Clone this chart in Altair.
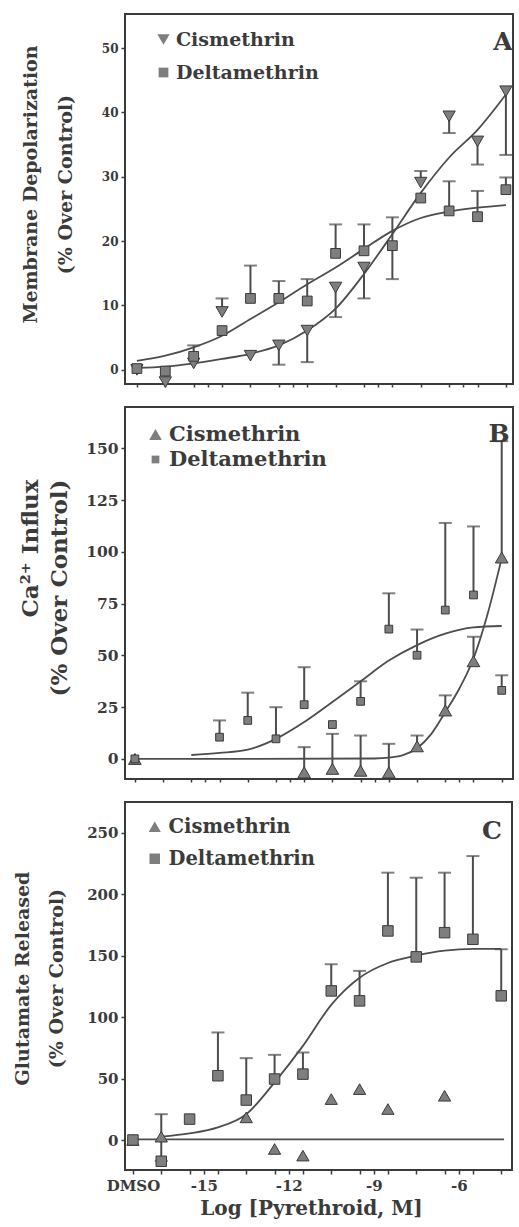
import altair as alt
import pandas as pd

# Dose positions (log molar); the first slot is the DMSO vehicle control
LOG_DOSE = [-17.5, -16.5, -15.5, -14.5, -13.5, -12.5, -11.5, -10.5, -9.5, -8.5, -7.5, -6.5, -5.5, -4.5]
X_TICKS = LOG_DOSE + [-15, -12, -9, -6]
COMPOUNDS = ["Cismethrin", "Deltamethrin"]

# ---- A: membrane depolarization (% over control)
A_CIS = [0.0, -1.9, 1.0, 9.0, 2.2, 3.8, 6.1, 12.8, 15.9, None, 29.1, 39.4, 35.5, 43.3]
A_CIS_UP = [None, None, None, 11.1, None, None, None, None, None, None, 30.9, None, None, None]
A_CIS_DOWN = [None, None, None, None, None, 0.8, 1.2, 8.2, 11.1, None, None, 36.8, 31.9, 33.4]
A_DEL = [0.2, -0.2, 2.1, 6.1, 11.1, 11.1, 10.7, 18.1, 18.5, 19.3, 26.7, 24.7, 23.8, 28.0]
A_DEL_UP = [None, None, 3.8, None, 16.2, 13.8, 14.1, 22.6, 22.6, 23.7, None, 29.3, 27.8, 29.9]
A_DEL_DOWN = [None, None, None, None, None, None, None, None, None, 14.1, None, None, None, None]
A_FIT_X = LOG_DOSE
A_CIS_FIT = [0.3, 0.5, 1.0, 1.7, 2.5, 3.8, 6.1, 9.5, 14.9, 21.1, 27.5, 33.0, 37.3, 42.8]
A_DEL_FIT = [1.4, 2.2, 3.5, 5.3, 7.9, 10.5, 13.3, 15.9, 18.8, 21.6, 23.6, 24.6, 25.2, 25.6]

# ---- B: Ca2+ influx (% over control)
B_CIS = [0.0, None, None, None, None, None, -6.5, -4.8, -5.7, -6.5, 6.1, 23.4, 47.2, 97.3]
B_CIS_UP = [None, None, None, None, None, None, 5.7, 12.1, 11.3, 7.3, 11.3, 30.7, 59.0, 153.5]
B_DEL = [0.0, None, None, 10.5, 18.6, 9.7, 26.2, 16.6, 27.8, 62.7, 50.1, 71.9, 79.2, 33.1]
B_DEL_UP = [None, None, None, 18.6, 32.0, 25.0, 44.3, None, 37.5, 80.0, 62.5, 114.0, 112.3, 40.4]
B_CIS_FIT_X = [-17.5, -9.0, -8.5, -8.0, -7.5, -7.0, -6.5, -6.0, -5.5, -5.0, -4.5]
B_CIS_FIT = [0.0, 0.2, 0.6, 1.8, 5.2, 12.0, 22.6, 34.0, 48.5, 70.0, 97.0]
B_DEL_FIT_X = [-15.5, -14.5, -13.5, -12.5, -11.5, -10.5, -9.5, -8.5, -7.5, -6.5, -5.5, -4.5]
B_DEL_FIT = [1.9, 2.9, 4.5, 9.7, 17.8, 27.5, 37.5, 47.5, 55.0, 60.5, 63.5, 64.2]

# ---- C: glutamate released (% over control)
C_CIS = [0.0, 2.7, None, None, 18.4, -7.3, -12.7, 33.3, 41.4, 25.2, None, 36.0, None, None]
C_CIS_UP = [None, 21.0, None, None, None, None, None, None, None, None, None, None, None, None]
C_CIS_DOWN = [None, -17.0, None, None, None, None, None, None, None, None, None, None, None, None]
C_DEL = [0.0, -17.3, 17.0, 52.3, 32.5, 49.6, 53.6, 121.3, 113.2, 170.1, 149.0, 168.7, 163.3, 117.3]
C_DEL_UP = [None, None, None, 87.5, 66.6, 69.3, 71.2, 143.0, 137.6, 217.5, 213.4, 217.5, 231.0, 155.2]
C_CIS_FIT_X = [-17.5, -4.4]
C_CIS_FIT = [0.5, 0.5]
C_DEL_FIT_X = [-16.5, -15.5, -14.5, -13.5, -12.5, -11.5, -10.5, -9.5, -8.5, -7.5, -6.5, -5.5, -4.5]
C_DEL_FIT = [2.7, 5.4, 10.3, 21.0, 46.9, 76.6, 110.0, 132.0, 144.0, 150.0, 154.0, 155.5, 155.5]

INK = "#3b3b3b"
LINE = "#4d4d4d"
MARKER_FILL = "#7e7e7e"
SERIF = "DejaVu Serif"


def point_table(cis, dlt):
    rows = []
    for name, vals in zip(COMPOUNDS, (cis, dlt)):
        for x, v in zip(LOG_DOSE, vals):
            if v is not None:
                rows.append({"dose": x, "value": v, "compound": name})
    return pd.DataFrame(rows)


def error_table(pairs):
    rows = []
    for vals, ends in pairs:
        for x, v, e in zip(LOG_DOSE, vals, ends):
            if v is not None and e is not None:
                rows.append({"dose": x, "value": v, "end": e})
    return pd.DataFrame(rows)


def cap_table(errors):
    # a cap sits at the far end of each error bar
    return pd.DataFrame({"dose": errors["dose"], "value": errors["end"]})


def fit_table(curves):
    rows = []
    for name, xs, ys in curves:
        for x, y in zip(xs, ys):
            rows.append({"dose": x, "value": y, "compound": name})
    return pd.DataFrame(rows)


def panel(points, errors, fits, *, x_domain, y_domain, y_ticks, width, height,
          tri, sizes, y_title, title_size, title_x, title_y, title_lh, title_align,
          tick_size, legend_x, legend_y, legend_font, legend_gap, legend_offset,
          letter, letter_x, letter_y, x_labels):
    if x_labels:
        x_axis = alt.Axis(
            values=X_TICKS, title="Log [Pyrethroid, M]", titleFont=SERIF,
            titleFontSize=20, titleFontWeight="bold", titleColor=INK, titlePadding=5,
            titleX=186,
            labelExpr="datum.value == -17.5 ? 'DMSO' : (datum.value % 3 == 0 ? '' + datum.value : '')",
            labelFont=SERIF, labelFontSize=15, labelFontWeight="bold", labelColor=INK,
            labelFlush=False, labelOverlap=False, labelPadding=4, tickSize=4,
            tickColor=INK, tickWidth=1.5, domain=False, grid=False)
    else:
        x_axis = alt.Axis(values=X_TICKS, labels=False, title=None, tickSize=3,
                          tickColor=INK, tickWidth=1.5, domain=False, grid=False)
    x = alt.X("dose:Q", scale=alt.Scale(domain=x_domain, nice=False, zero=False), axis=x_axis)
    y = alt.Y(
        "value:Q", scale=alt.Scale(domain=y_domain, nice=False, zero=False),
        axis=alt.Axis(
            values=y_ticks, title=y_title, titleFont=SERIF, titleFontSize=title_size,
            titleFontWeight="bold", titleColor=INK, titleX=title_x, titleY=title_y,
            titleLineHeight=title_lh, titleAlign=title_align, labelFont=SERIF,
            labelFontSize=tick_size, labelFontWeight="bold", labelColor=INK,
            labelPadding=3, labelOverlap=False, tickSize=4, tickColor=INK,
            tickWidth=1.5, domain=False, grid=False))
    legend = alt.Legend(
        title=None, orient="none", legendX=legend_x, legendY=legend_y, padding=0,
        labelFont=SERIF, labelFontSize=legend_font, labelFontWeight="bold",
        labelColor=INK, labelOffset=legend_offset, labelLimit=400, rowPadding=legend_gap,
        symbolFillColor=MARKER_FILL, symbolStrokeColor=INK, symbolStrokeWidth=1)

    curves = alt.Chart(fits).mark_line(color=LINE, strokeWidth=1.8, interpolate="monotone").encode(
        x=x, y=y, detail="compound:N")
    bars = alt.Chart(errors).mark_rule(color=LINE, strokeWidth=2).encode(x=x, y=y, y2="end:Q")
    caps = alt.Chart(cap_table(errors)).mark_tick(
        orient="horizontal", color=LINE, size=13, thickness=2).encode(x=x, y=y)
    pts = alt.Chart(points).mark_point(
        filled=True, fill=MARKER_FILL, stroke=INK, strokeWidth=1, opacity=1).encode(
        x=x, y=y,
        shape=alt.Shape("compound:N", scale=alt.Scale(domain=COMPOUNDS, range=[tri, "square"]),
                        legend=legend),
        size=alt.Size("compound:N", scale=alt.Scale(domain=COMPOUNDS, range=sizes),
                      legend=legend))
    tag = alt.Chart(pd.DataFrame({"tag": [letter]})).mark_text(
        font=SERIF, fontSize=25, fontWeight="bold", color=INK, align="center",
        baseline="middle").encode(text="tag:N", x=alt.value(letter_x), y=alt.value(letter_y))
    return alt.layer(curves, bars, caps, pts, tag).properties(width=width, height=height)


panel_a = panel(
    point_table(A_CIS, A_DEL),
    error_table([(A_CIS, A_CIS_UP), (A_CIS, A_CIS_DOWN), (A_DEL, A_DEL_UP), (A_DEL, A_DEL_DOWN)]),
    fit_table([("Cismethrin", A_FIT_X, A_CIS_FIT), ("Deltamethrin", A_FIT_X, A_DEL_FIT)]),
    x_domain=[-17.92, -4.25], y_domain=[-2.2, 55.3], y_ticks=[0, 10, 20, 30, 40, 50],
    width=388, height=370, tri="triangle-down", sizes=[150, 95],
    y_title=["Membrane Depolarization", "(% Over Control)"], title_size=19,
    title_x=-85, title_y=170, title_lh=35, title_align="center", tick_size=12,
    legend_x=29, legend_y=16, legend_font=19, legend_gap=13, legend_offset=3,
    letter="A", letter_x=378, letter_y=28, x_labels=False)

panel_b = panel(
    point_table(B_CIS, B_DEL),
    error_table([(B_CIS, B_CIS_UP), (B_DEL, B_DEL_UP)]),
    fit_table([("Cismethrin", B_CIS_FIT_X, B_CIS_FIT), ("Deltamethrin", B_DEL_FIT_X, B_DEL_FIT)]),
    x_domain=[-17.85, -4.1], y_domain=[-9.7, 170], y_ticks=[0, 25, 50, 75, 100, 125, 150],
    width=388, height=372, tri="triangle-up", sizes=[160, 60],
    y_title=["Ca²⁺ Influx", "(% Over Control)"], title_size=23,
    title_x=-83, title_y=72, title_lh=29, title_align="right", tick_size=15.5,
    legend_x=20, legend_y=17, legend_font=21, legend_gap=3, legend_offset=3,
    letter="B", letter_x=374, letter_y=27, x_labels=False)

panel_c = panel(
    point_table(C_CIS, C_DEL),
    error_table([(C_CIS, C_CIS_UP), (C_CIS, C_CIS_DOWN), (C_DEL, C_DEL_UP)]),
    fit_table([("Cismethrin", C_CIS_FIT_X, C_CIS_FIT), ("Deltamethrin", C_DEL_FIT_X, C_DEL_FIT)]),
    x_domain=[-17.78, -4.12], y_domain=[-24.4, 275], y_ticks=[0, 50, 100, 150, 200, 250],
    width=387, height=368, tri="triangle-up", sizes=[150, 110],
    y_title=["Glutamate Released", "(% Over Control)"], title_size=19,
    title_x=-93, title_y=176, title_lh=34, title_align="center", tick_size=15,
    legend_x=20, legend_y=15, legend_font=19.5, legend_gap=11, legend_offset=4,
    letter="C", letter_x=367, letter_y=29, x_labels=True)

chart = alt.vconcat(panel_a, panel_b, panel_c, spacing=23, bounds="flush").resolve_scale(
    x="independent", y="independent", shape="independent", size="independent"
).resolve_legend(shape="independent", size="independent").properties(
    padding={"left": 12, "top": 13, "right": 0, "bottom": 0}, background="white"
).configure_view(stroke=INK, strokeWidth=2)

chart.save("out.html", embed_options={"renderer": "svg", "actions": False})
